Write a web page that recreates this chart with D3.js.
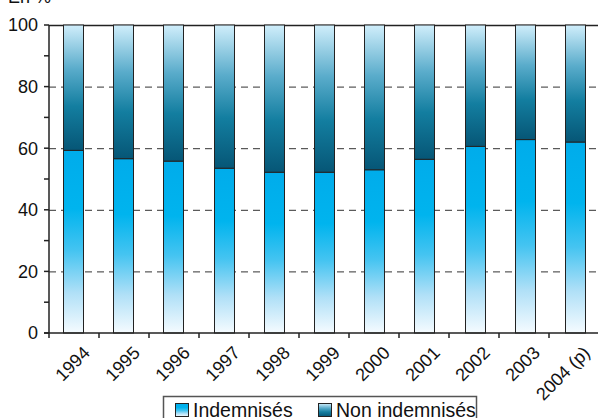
<!DOCTYPE html>
<html><head><meta charset="utf-8">
<script src="https://cdn.jsdelivr.net/npm/d3@7"></script>
<style>body{margin:0;background:#fff}svg{display:block}text{font-family:"Liberation Sans",Arial,sans-serif;fill:#111}</style>
</head><body><svg id="c" width="598" height="418"></svg>
<script>
const years = ["1994","1995","1996","1997","1998","1999","2000","2001","2002","2003","2004 (p)"];
const indemnises = [59.3,56.6,55.8,53.5,52.2,52.2,53.0,56.4,60.6,62.8,62.0];
const nonIndemnises = indemnises.map(v => 100 - v);
const yTicks = [0,20,40,60,80,100];
const yMinor = [10,30,50,70,90];
const seriesNames = ["Indemnisés","Non indemnisés"];

const svg = d3.select("#c");
const L = 49, R = 599, T = 25, B = 333;
const x = d3.scaleBand().domain(years).range([L, R]).paddingInner(0.6).paddingOuter(0.28);
const xb = d3.scaleBand().domain(years).range([L, R]);
const y = d3.scaleLinear().domain([0,100]).range([B, T]);

const defs = svg.append("defs");
const g1 = defs.append("linearGradient").attr("id","gInd").attr("x1",0).attr("y1",1).attr("x2",0).attr("y2",0);
g1.append("stop").attr("offset","0").attr("stop-color","#f5fbff");
g1.append("stop").attr("offset","0.22").attr("stop-color","#b0e0f7");
g1.append("stop").attr("offset","0.45").attr("stop-color","#45c4f1");
g1.append("stop").attr("offset","0.68").attr("stop-color","#00b4ee");
g1.append("stop").attr("offset","1").attr("stop-color","#00aceb");
const g2 = defs.append("linearGradient").attr("id","gNon").attr("x1",0).attr("y1",0).attr("x2",0).attr("y2",1);
g2.append("stop").attr("offset","0").attr("stop-color","#d0eefb");
g2.append("stop").attr("offset","0.35").attr("stop-color","#5aaccb");
g2.append("stop").attr("offset","0.65").attr("stop-color","#137ea0");
g2.append("stop").attr("offset","1").attr("stop-color","#065676");

// gridlines
svg.append("g").selectAll("line").data(yTicks.filter(d=>d>0&&d<100)).join("line")
  .attr("x1",L).attr("x2",598).attr("y1",d=>y(d)+0.5).attr("y2",d=>y(d)+0.5)
  .attr("stroke","#333").attr("stroke-dasharray","7,5").attr("stroke-width",1);
svg.append("line").attr("x1",L).attr("x2",598).attr("y1",y(100)+0.5).attr("y2",y(100)+0.5).attr("stroke","#222").attr("stroke-width",1.5);

// bars
const bars = svg.append("g");
bars.selectAll("rect.ind").data(years).join("rect").attr("class","ind")
  .attr("x",d=>Math.round(x(d))+0.5).attr("width",Math.round(x.bandwidth()))
  .attr("y",(d,i)=>y(indemnises[i])).attr("height",(d,i)=>y(0)-y(indemnises[i]))
  .attr("fill","url(#gInd)").attr("stroke","#222").attr("stroke-width",1);
bars.selectAll("rect.non").data(years).join("rect").attr("class","non")
  .attr("x",d=>Math.round(x(d))+0.5).attr("width",Math.round(x.bandwidth()))
  .attr("y",(d,i)=>y(100)).attr("height",(d,i)=>y(indemnises[i])-y(100))
  .attr("fill","url(#gNon)").attr("stroke","#222").attr("stroke-width",1);

// y axis
const ya = svg.append("g").attr("transform",`translate(${L},0)`);
ya.append("line").attr("x1",0).attr("x2",0).attr("y1",y(100)).attr("y2",y(0)).attr("stroke","#222").attr("stroke-width",1.5);
ya.selectAll("line.t").data(yTicks.concat(yMinor)).join("line").attr("class","t")
  .attr("x1",-5).attr("x2",0).attr("y1",d=>y(d)).attr("y2",d=>y(d)).attr("stroke","#222").attr("stroke-width",1.5);
ya.selectAll("text").data(yTicks).join("text").attr("x",-11).attr("y",d=>y(d)).attr("dy","0.36em")
  .attr("text-anchor","end").attr("font-size",18).text(d=>d);

// x axis
const xa = svg.append("g");
xa.append("line").attr("x1",L-5).attr("x2",598).attr("y1",B).attr("y2",B).attr("stroke","#222").attr("stroke-width",1.5);
xa.selectAll("line.t").data(years).join("line").attr("class","t")
  .attr("x1",d=>xb(d)).attr("x2",d=>xb(d)).attr("y1",B).attr("y2",B+5).attr("stroke","#222").attr("stroke-width",1.5);
xa.selectAll("text").data(years).join("text")
  .attr("transform",d=>`translate(${xb(d)+xb.bandwidth()/2+17},${B+21}) rotate(-45)`)
  .attr("text-anchor","end").attr("font-size",18).text(d=>d);

// title
svg.append("text").attr("x",8).attr("y",3).attr("font-size",18).text("En %");

// legend
const lg = svg.append("g");
lg.append("rect").attr("x",163.5).attr("y",396.5).attr("width",313).attr("height",30).attr("fill","#fff").attr("stroke","#555").attr("stroke-width",1.5);
const items = [{n:seriesNames[0],f:"url(#gInd)",x:175},{n:seriesNames[1],f:"url(#gNon)",x:318}];
items.forEach(it=>{
  lg.append("rect").attr("x",it.x+0.5).attr("y",403.5).attr("width",13).attr("height",13).attr("fill",it.f).attr("stroke","#222");
  lg.append("text").attr("x",it.x+18).attr("y",417).attr("font-size",19.5).text(it.n);
});
</script></body></html>
